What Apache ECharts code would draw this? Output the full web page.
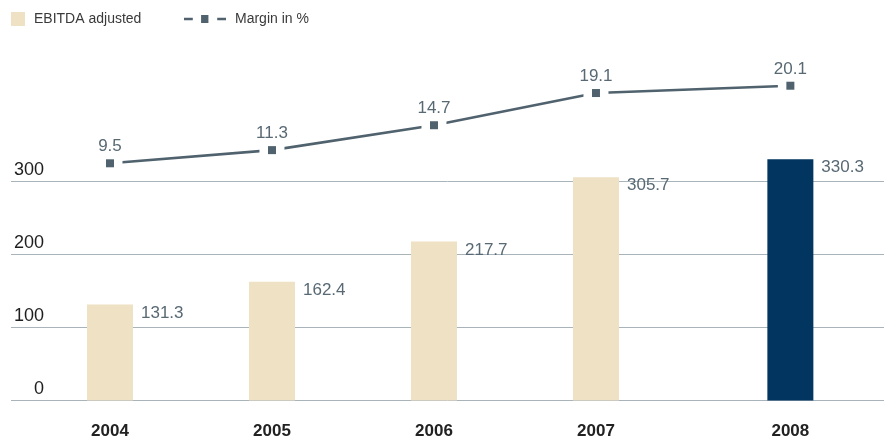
<!DOCTYPE html>
<html>
<head>
<meta charset="utf-8">
<script src="https://cdn.jsdelivr.net/npm/echarts@6/dist/echarts.min.js"></script>
<style>
  html, body { margin: 0; padding: 0; background: #fff; }
  #chart { width: 884px; height: 444px; }
</style>
</head>
<body>
<div id="chart"></div>
<script>
// data
const years = ['2004', '2005', '2006', '2007', '2008']
const ebitda = [131.3, 162.4, 217.7, 305.7, 330.3]
const margin = [9.5, 11.3, 14.7, 19.1, 20.1]
const yTicks = [0, 100, 200, 300]

// layout: the last (highlighted) year sits a little further right
const extraGap = 0.2
const pos = years.map((y, i) => i + (i === years.length - 1 ? extraGap : 0))

const beige = '#efe1c4'
const navy = '#02355f'
const slate = '#4f626d'
const labelGrey = '#586974'

const chart = echarts.init(document.getElementById('chart'))

chart.setOption({
    animation: false,
    legend: [
        {
            left: 11,
            top: 12,
            padding: 0,
            itemWidth: 14,
            itemHeight: 14,
            icon: 'rect',
            data: ['EBITDA adjusted'],
            itemStyle: { color: beige },
            textStyle: { fontFamily: 'Liberation Sans', fontSize: 14, color: '#3a3a3a', padding: [0, 0, 0, 4] }
        },
        {
            left: 184,
            top: 12,
            padding: 0,
            itemWidth: 42,
            itemHeight: 8,
            icon: 'path://M0,2.7h9v2.6h-9z M17.5,0h7.5v8h-7.5z M34,2.7h9v2.6h-9z',
            data: ['Margin in %'],
            itemStyle: { color: slate },
            textStyle: { fontFamily: 'Liberation Sans', fontSize: 14, color: '#3a3a3a', padding: [0, 0, 0, 4] }
        }
    ],
    grid: {
        left: 11,
        right: 0,
        top: 181.3,
        bottom: 43.5,
        outerBoundsMode: 'none'
    },
    xAxis: {
        type: 'value',
        min: -0.611,
        max: 4.778,
        axisLine: { show: false },
        axisTick: { show: false },
        splitLine: { show: false },
        axisLabel: {
            customValues: pos,
            margin: 22,
            fontFamily: 'Liberation Sans',
            fontWeight: 'bold',
            fontSize: 17,
            color: '#222',
            formatter: v => {
                const i = pos.findIndex(p => Math.abs(p - v) < 1e-6)
                return i >= 0 ? years[i] : ''
            }
        }
    },
    yAxis: [
        {
            type: 'value',
            min: yTicks[0],
            max: yTicks[yTicks.length - 1],
            interval: 100,
            axisLine: { show: false },
            axisTick: { show: false },
            splitLine: { lineStyle: { color: '#a9b3ba', width: 1 } },
            axisLabel: {
                inside: true,
                margin: 33,
                align: 'right',
                verticalAlign: 'bottom',
                lineHeight: 18,
                padding: [0, 0, 2, 0],
                fontFamily: 'Liberation Sans',
                fontSize: 18,
                color: '#1e1e1e'
            }
        },
        {
            type: 'value',
            show: false,
            min: -22.91,
            max: 7.04,
            splitLine: { show: false }
        }
    ],
    series: [
        {
            name: 'EBITDA adjusted',
            type: 'bar',
            barWidth: 46,
            clip: false,
            itemStyle: { color: beige },
            data: ebitda.map((v, i) => ({
                value: [pos[i], v],
                itemStyle: { color: i === years.length - 1 ? navy : beige }
            })),
            label: {
                show: true,
                position: [54, 0],
                align: 'left',
                verticalAlign: 'top',
                lineHeight: 17,
                fontFamily: 'Liberation Sans',
                fontSize: 17,
                color: labelGrey,
                formatter: p => p.value[1].toFixed(1)
            }
        },
        {
            name: 'Margin in %',
            type: 'line',
            yAxisIndex: 1,
            clip: false,
            symbol: 'none',
            z: 2,
            itemStyle: { color: slate },
            lineStyle: { color: slate, width: 2.6 },
            data: margin.map((v, i) => [pos[i], v])
        },
        {
            // white halo that opens the line around each marker
            name: 'halo',
            type: 'scatter',
            yAxisIndex: 1,
            clip: false,
            symbol: 'rect',
            symbolSize: 25,
            z: 3,
            silent: true,
            itemStyle: { color: '#fff', opacity: 1 },
            data: margin.map((v, i) => [pos[i], v])
        },
        {
            name: 'markers',
            type: 'scatter',
            yAxisIndex: 1,
            clip: false,
            symbol: 'rect',
            symbolSize: 8,
            z: 4,
            itemStyle: { color: slate, opacity: 1 },
            label: {
                show: true,
                position: 'top',
                distance: 4,
                fontFamily: 'Liberation Sans',
                fontSize: 17,
                color: labelGrey,
                formatter: p => p.value[1].toFixed(1)
            },
            data: margin.map((v, i) => [pos[i], v])
        }
    ]
})
</script>
</body>
</html>
